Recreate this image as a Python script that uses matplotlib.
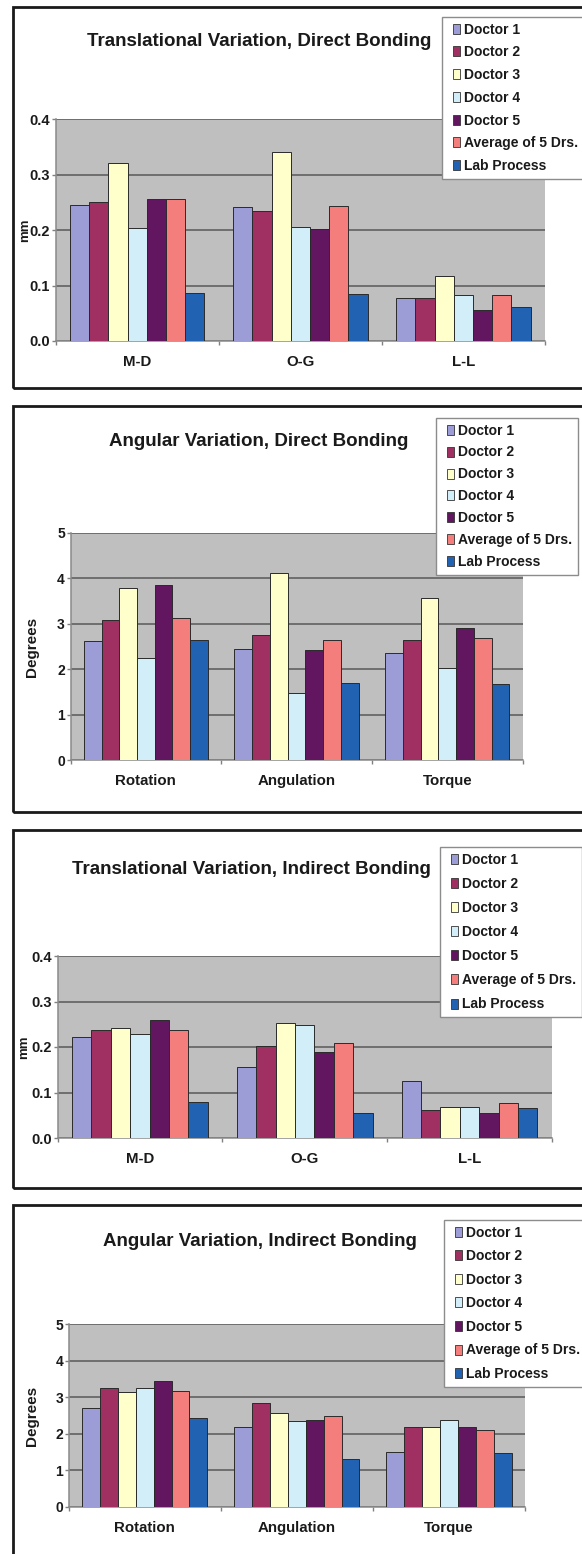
import numpy as np
import matplotlib
matplotlib.use("Agg")
import matplotlib.pyplot as plt
from matplotlib.patches import Rectangle
from matplotlib.legend_handler import HandlerPatch
from matplotlib.ticker import FormatStrFormatter, FixedLocator

plt.rcParams["font.family"] = ["Liberation Sans", "DejaVu Sans"]
plt.rcParams["font.weight"] = "bold"
plt.rcParams["axes.labelweight"] = "bold"

# ---- data -----------------------------------------------------------------
series = ["Doctor 1", "Doctor 2", "Doctor 3", "Doctor 4", "Doctor 5",
          "Average of 5 Drs.", "Lab Process"]
colors = ["#9c9cd6", "#a03062", "#ffffcc", "#d2eef8", "#621660",
          "#f47e7c", "#2262b2"]

trans_cats = ["M-D", "O-G", "L-L"]
ang_cats = ["Rotation", "Angulation", "Torque"]

# one row per category, one value per series (mm / degrees)
trans_direct = [
    [0.245, 0.250, 0.320, 0.203, 0.255, 0.255, 0.087],
    [0.242, 0.234, 0.341, 0.206, 0.201, 0.244, 0.085],
    [0.077, 0.077, 0.118, 0.083, 0.056, 0.083, 0.062],
]
ang_direct = [
    [2.62, 3.08, 3.78, 2.24, 3.85, 3.12, 2.65],
    [2.44, 2.75, 4.12, 1.47, 2.42, 2.64, 1.69],
    [2.36, 2.64, 3.56, 2.02, 2.90, 2.68, 1.67],
]
trans_indirect = [
    [0.223, 0.237, 0.241, 0.228, 0.259, 0.237, 0.079],
    [0.157, 0.203, 0.252, 0.248, 0.188, 0.208, 0.056],
    [0.126, 0.062, 0.069, 0.069, 0.056, 0.078, 0.066],
]
ang_indirect = [
    [2.70, 3.26, 3.13, 3.26, 3.45, 3.18, 2.44],
    [2.19, 2.85, 2.56, 2.35, 2.39, 2.49, 1.31],
    [1.51, 2.18, 2.18, 2.39, 2.18, 2.10, 1.48],
]

# ---- layout (pixels from the top-left corner) -----------------------------
W, H = 582, 1554
fig = plt.figure(figsize=(W / 100, H / 100), dpi=100)

panels = [
    dict(title="Translational Variation, Direct Bonding", data=trans_direct,
         cats=trans_cats, ylabel="mm", ymax=0.4, step=0.1, fmt="%.1f",
         box=(7, 387.5), ax=(55.7, 119, 545, 341), title_xy=(259, 42),
         ylab_x=31, ylab_size=9.5, tick_size=10.5,
         leg=(442, 17), spacing=0.63),
    dict(title="Angular Variation, Direct Bonding", data=ang_direct,
         cats=ang_cats, ylabel="Degrees", ymax=5, step=1, fmt="%d",
         box=(405.5, 811.5), ax=(70.5, 533, 522.6, 760), title_xy=(259, 442),
         ylab_x=39, ylab_size=11, tick_size=10,
         leg=(436, 418), spacing=0.57),
    dict(title="Translational Variation, Indirect Bonding", data=trans_indirect,
         cats=trans_cats, ylabel="mm", ymax=0.4, step=0.1, fmt="%.1f",
         box=(830, 1188), ax=(57.5, 956, 552, 1138), title_xy=(251.5, 870),
         ylab_x=30, ylab_size=9.5, tick_size=10.5,
         leg=(440, 847), spacing=0.73),
    dict(title="Angular Variation, Indirect Bonding", data=ang_indirect,
         cats=ang_cats, ylabel="Degrees", ymax=5, step=1, fmt="%d",
         box=(1205, 1575), ax=(68.7, 1324, 525, 1507), title_xy=(260, 1242),
         ylab_x=39, ylab_size=11, tick_size=10,
         leg=(444, 1220), spacing=0.69),
]


def fx(x):
    return x / W


def fy(y):
    return 1 - y / H


def small_box(legend, orig_handle, xdescent, ydescent, width, height, fontsize):
    w, h = 5.0, 7.2
    return Rectangle((-xdescent + width - w, -ydescent + (height - h) / 2), w, h)


bar_w = 1 / 8.5
n = len(series)

for p in panels:
    top, bottom = p["box"]
    fig.add_artist(Rectangle((fx(12.5), fy(bottom)), fx(620), (bottom - top) / H,
                             transform=fig.transFigure, fill=False,
                             lw=2, ec="#1a1a1a"))

    l, t, r, b = p["ax"]
    ax = fig.add_axes([fx(l), fy(b), (r - l) / W, (b - t) / H])
    ax.set_facecolor("#bfbfbf")

    vals = np.array(p["data"])
    x = np.arange(len(p["cats"]))
    for k in range(n):
        ax.bar(x + (k - (n - 1) / 2) * bar_w, vals[:, k], width=bar_w,
               color=colors[k], edgecolor="#2a2a2a", linewidth=0.7, zorder=3)

    ax.set_xlim(-0.5, len(p["cats"]) - 0.5)
    ax.set_ylim(0, p["ymax"])
    ax.set_yticks(np.arange(0, p["ymax"] + p["step"] / 2, p["step"]))
    ax.yaxis.set_major_formatter(FormatStrFormatter(p["fmt"]))
    ax.yaxis.grid(True, color="#585858", lw=1.1, zorder=1)
    ax.set_axisbelow(True)

    ax.set_xticks(x)
    ax.set_xticklabels(p["cats"])
    ax.xaxis.set_minor_locator(FixedLocator(np.arange(-0.5, len(x), 1.0)))
    ax.tick_params(axis="x", which="major", length=0, pad=10, labelsize=10.8,
                   labelcolor="#1a1a1a")
    ax.tick_params(axis="x", which="minor", length=3, width=1, color="#808080",
                   direction="out")
    ax.tick_params(axis="y", length=3, width=1, color="#808080", pad=1,
                   labelsize=p["tick_size"], labelcolor="#1a1a1a")

    for side in ("top", "right"):
        ax.spines[side].set_visible(False)
    for side in ("left", "bottom"):
        ax.spines[side].set_color("#8a8a8a")
        ax.spines[side].set_linewidth(1.1)

    ax.set_ylabel(p["ylabel"], fontsize=p["ylab_size"], color="#1a1a1a")
    ax.yaxis.set_label_coords(fx(p["ylab_x"]), fy((t + b) / 2),
                              transform=fig.transFigure)

    tx, ty = p["title_xy"]
    fig.text(fx(tx), fy(ty), p["title"], ha="center", va="center",
             fontsize=13.5, fontweight="bold", color="#1a1a1a")

    handles = [Rectangle((0, 0), 1, 1, fc=c, ec="#333333", lw=0.6) for c in colors]
    lx, ly = p["leg"]
    leg = ax.legend(handles, series, loc="upper left",
                    bbox_to_anchor=(fx(lx), fy(ly)), bbox_transform=fig.transFigure,
                    fontsize=10, frameon=True, fancybox=False, framealpha=1,
                    edgecolor="#8c8c8c", borderpad=0.4, borderaxespad=0,
                    handlelength=0.86, handleheight=0.75, handletextpad=0.32,
                    labelspacing=p["spacing"],
                    handler_map={Rectangle: HandlerPatch(patch_func=small_box)})
    leg.get_frame().set_linewidth(1.0)
    leg.set_zorder(10)
    for txt in leg.get_texts():
        txt.set_color("#1a1a1a")

fig.savefig("out.png", dpi=100)
